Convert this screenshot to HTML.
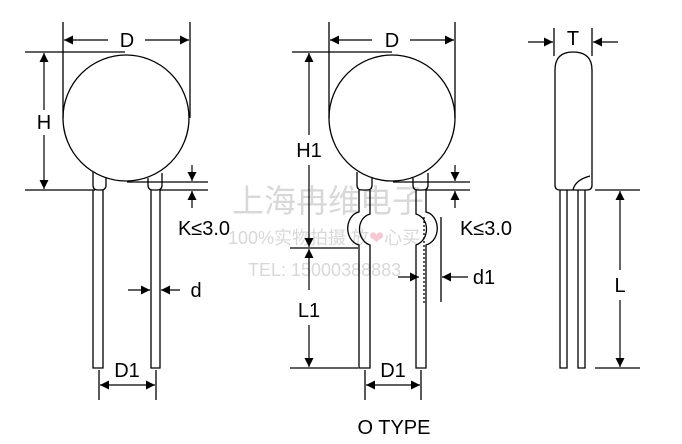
<!DOCTYPE html>
<html><head><meta charset="utf-8"><style>
html,body{margin:0;padding:0;background:#fff;}
svg{display:block;font-family:"Liberation Sans","Noto Sans CJK SC",sans-serif;}
</style></head><body>
<svg width="682" height="444" viewBox="0 0 682 444" xmlns="http://www.w3.org/2000/svg">
<defs>
<marker id="a" viewBox="0 0 10 10" refX="10" refY="5" markerWidth="9" markerHeight="9" markerUnits="userSpaceOnUse" orient="auto"><path d="M0,0L10,5L0,10z" fill="#000"/></marker>
</defs>
<g fill="#ccc" opacity="0.75">
<text x="232" y="212" font-size="32">上海冉维电子</text>
<text x="228" y="244" font-size="18">100%实物拍摄 放<tspan fill="#f3b8c6">❤</tspan>心买</text>
<text x="248" y="276" font-size="18">TEL: 15000388883</text>
</g>
<g stroke="#000" stroke-width="1.3" fill="none">
<circle cx="126" cy="118" r="63"/>
<path d="M93,190 V368 H103 V190 M151,190 V368 H160 V190"/>
<path d="M93,172 V185 Q93,190 98,190 H101 Q106,190 106,185 V177 M148,178 V185 Q148,190 153,190 H157 Q162,190 162,185 V173"/>
<line x1="63" y1="22" x2="63" y2="118"/><line x1="190" y1="22" x2="190" y2="118"/>
<line x1="25" y1="52" x2="125" y2="52"/><line x1="25" y1="190" x2="95" y2="190"/>
<line x1="127" y1="182" x2="208" y2="182"/><line x1="160" y1="190" x2="208" y2="190"/>
<line x1="99" y1="370" x2="99" y2="400"/><line x1="156" y1="370" x2="156" y2="400"/>
<circle cx="392" cy="118" r="63"/>
<path d="M359,190 V212 C345,215 343,240 359,245 V368 H370 V245 C356,240 356,218 370,214 V190"/>
<path d="M416,190 V214 C430,218 430,240 416,245 V368 H426 V245 C442,240 440,215 426,212 V190"/>
<path d="M357,172 V185 Q357,190 362,190 H367 Q372,190 372,185 V177 M413,178 V185 Q413,190 418,190 H423 Q428,190 428,185 V173"/>
<line x1="424" y1="217" x2="424" y2="305" stroke-dasharray="2,2"/>
<line x1="329" y1="22" x2="329" y2="118"/><line x1="455" y1="22" x2="455" y2="118"/>
<line x1="292" y1="52" x2="392" y2="52"/><line x1="290" y1="248" x2="358" y2="248"/><line x1="290" y1="368" x2="358" y2="368"/>
<line x1="393" y1="182" x2="470" y2="182"/><line x1="426" y1="190" x2="470" y2="190"/>
<line x1="441" y1="217" x2="441" y2="302"/>
<line x1="365" y1="370" x2="365" y2="400"/><line x1="421" y1="370" x2="421" y2="400"/>
<path d="M555,185 V70 Q555,52 573,52 Q592,52 592,70 V185 Q592,190 587,190 H560 Q555,190 555,185 Z"/>
<path d="M573,190 Q575,180 590,176"/>
<path d="M560,190 V368 H567 V190 M578,190 V368 H585 V190"/>
<line x1="554" y1="28" x2="554" y2="56"/><line x1="592" y1="28" x2="592" y2="56"/>
<line x1="595" y1="190" x2="640" y2="190"/><line x1="595" y1="368" x2="640" y2="368"/>
</g>
<g stroke="#000" stroke-width="1.2" fill="none" marker-end="url(#a)">
<line x1="108" y1="40" x2="64" y2="40"/><line x1="145" y1="40" x2="189" y2="40"/>
<line x1="44" y1="110" x2="44" y2="53"/><line x1="44" y1="135" x2="44" y2="189"/>
<line x1="192" y1="165" x2="192" y2="181"/><line x1="192" y1="208" x2="192" y2="191"/>
<line x1="128" y1="290" x2="150" y2="290"/><line x1="180" y1="290" x2="161" y2="290"/>
<line x1="127" y1="385" x2="100" y2="385"/><line x1="127" y1="385" x2="155" y2="385"/>
<line x1="372" y1="40" x2="330" y2="40"/><line x1="410" y1="40" x2="454" y2="40"/>
<line x1="309" y1="135" x2="309" y2="53"/><line x1="309" y1="165" x2="309" y2="247"/>
<line x1="309" y1="290" x2="309" y2="249"/><line x1="309" y1="325" x2="309" y2="367"/>
<line x1="455" y1="165" x2="455" y2="181"/><line x1="455" y1="208" x2="455" y2="191"/>
<line x1="398" y1="277" x2="419" y2="277"/><line x1="468" y1="277" x2="442" y2="277"/>
<line x1="393" y1="385" x2="366" y2="385"/><line x1="393" y1="385" x2="420" y2="385"/>
<line x1="528" y1="42" x2="553" y2="42"/><line x1="618" y1="42" x2="593" y2="42"/>
<line x1="620" y1="270" x2="620" y2="191"/><line x1="620" y1="300" x2="620" y2="367"/>
</g>
<g fill="#000" font-size="20" text-anchor="middle">
<text x="127" y="47">D</text>
<text x="44" y="129">H</text>
<text x="204" y="235">K≤3.0</text>
<text x="196" y="297">d</text>
<text x="127" y="377">D1</text>
<text x="392" y="47">D</text>
<text x="309" y="157">H1</text>
<text x="309" y="317">L1</text>
<text x="486" y="235">K≤3.0</text>
<text x="484" y="284">d1</text>
<text x="393" y="377">D1</text>
<text x="394" y="434">O TYPE</text>
<text x="573" y="45">T</text>
<text x="620" y="292">L</text>
</g>
</svg>
</body></html>
